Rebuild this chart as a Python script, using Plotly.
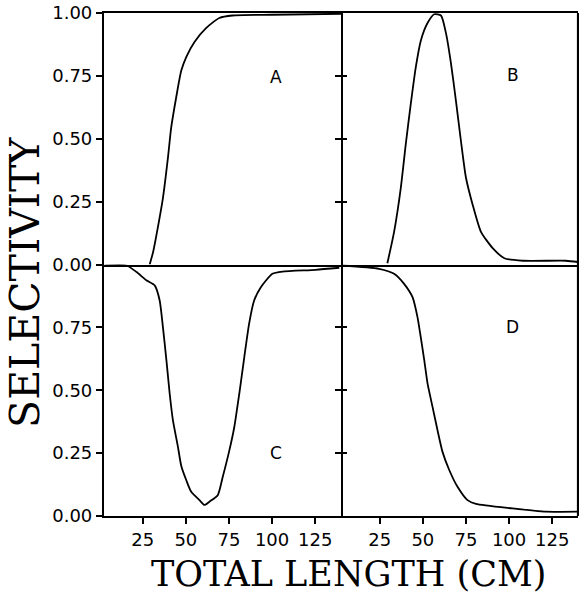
import plotly.graph_objects as go
from plotly.subplots import make_subplots

# ---- data ----
A_x = [29, 31, 33, 36.7, 39.6, 41.5, 44.4, 47.3, 50.2, 55, 61.7, 69.4, 77, 100, 140]
A_y = [0.0, 0.05, 0.12, 0.265, 0.425, 0.545, 0.665, 0.77, 0.825, 0.885, 0.94, 0.98, 0.99, 0.993, 0.997]

B_x = [29.4, 33.3, 37.2, 40.1, 43, 45.9, 48.8, 52.7, 56.6, 60.5, 63.4, 66.3, 69.2, 72.1, 75, 78.8, 83.7, 90.5, 97.3, 108, 133, 140]
B_y = [0.005, 0.13, 0.305, 0.48, 0.64, 0.785, 0.89, 0.96, 0.995, 0.99, 0.92, 0.8, 0.65, 0.49, 0.345, 0.24, 0.13, 0.065, 0.025, 0.015, 0.015, 0.01]

C_x = [3, 15.6, 21.4, 27.1, 31.9, 34.8, 36.7, 38.7, 40.6, 42.5, 45.4, 47.3, 50.2, 53.1, 57.9, 60.8, 63.7, 68.5, 71.4, 75.2, 78.1, 81, 83.9, 86.7, 89.6, 93.5, 100.2, 106, 125.2, 139]
C_y = [0.996, 0.996, 0.97, 0.937, 0.917, 0.857, 0.75, 0.62, 0.487, 0.38, 0.275, 0.2, 0.143, 0.096, 0.063, 0.044, 0.057, 0.083, 0.156, 0.26, 0.354, 0.487, 0.632, 0.765, 0.857, 0.91, 0.963, 0.972, 0.979, 0.987]

D_x = [3.3, 24.6, 33.3, 39.1, 44, 46.9, 48.8, 50.8, 52.7, 55.6, 58.5, 61.4, 65.3, 70.1, 75.9, 80.8, 102, 121.5, 139.7]
D_y = [0.996, 0.983, 0.963, 0.923, 0.87, 0.79, 0.71, 0.62, 0.527, 0.434, 0.341, 0.255, 0.183, 0.116, 0.063, 0.048, 0.03, 0.017, 0.017]

x_ticks = [25, 50, 75, 100, 125]
top_y_ticks = [0, 0.25, 0.5, 0.75, 1.0]
top_y_text = ["0.00", "0.25", "0.50", "0.75", "1.00"]
bot_y_ticks = [0, 0.25, 0.5, 0.75]
bot_y_text = ["0.00", "0.25", "0.50", "0.75"]
mid_ticks = [0.25, 0.5, 0.75]
panel_labels = ["A", "B", "C", "D"]
label_pos = [(102, 0.745), (102, 0.752), (102, 0.25), (102, 0.75)]

fig = make_subplots(rows=2, cols=2, horizontal_spacing=0, vertical_spacing=0)

series = [(A_x, A_y, 1, 1), (B_x, B_y, 1, 2), (C_x, C_y, 2, 1), (D_x, D_y, 2, 2)]
for (xs, ys, r, c) in series:
    fig.add_trace(go.Scatter(x=xs, y=ys, mode="lines",
                             line=dict(color="black", width=1.8, shape="spline", smoothing=0.6),
                             showlegend=False, hoverinfo="skip"), row=r, col=c)

tickfont = dict(family="DejaVu Sans", size=18, color="black")
XR = [2.5, 140]
LW = 2.2

for r in (1, 2):
    for c in (1, 2):
        xa = dict(range=XR, showline=True, linewidth=LW, linecolor="black",
                  showgrid=False, zeroline=False, tickvals=x_ticks, tickfont=tickfont,
                  automargin=False)
        if r == 1:
            xa.update(showticklabels=False, ticks="", mirror=True)
        else:
            xa.update(ticks="outside", ticklen=6, tickwidth=1.5, tickcolor="black", mirror=False)
        fig.update_xaxes(row=r, col=c, **xa)

        ya = dict(range=[0, 1], showgrid=False, zeroline=False, tickfont=tickfont,
                  automargin=False, ticklen=6, tickwidth=1.5,
                  tickcolor="black", linecolor="black", linewidth=LW)
        if c == 1:
            if r == 1:
                ya.update(tickvals=top_y_ticks, ticktext=top_y_text)
            else:
                ya.update(tickvals=bot_y_ticks, ticktext=bot_y_text)
            ya.update(showline=True, mirror=True, ticks="outside")
        else:
            ya.update(tickvals=mid_ticks, showticklabels=False, showline=False, ticks="inside")
        fig.update_yaxes(row=r, col=c, **ya)

# secondary right-side axes on the left panels: inside ticks point left from the divider
for (xs, ys, xname, newy) in ((A_x, A_y, "x", "y5"), (C_x, C_y, "x3", "y6")):
    fig.add_trace(go.Scatter(x=xs, y=ys, xaxis=xname, yaxis=newy, mode="lines",
                             line=dict(color="rgba(0,0,0,0)", width=0),
                             showlegend=False, hoverinfo="skip"))
common = dict(side="right", range=[0, 1], tickvals=mid_ticks,
              ticks="inside", ticklen=6, tickwidth=1.5, tickcolor="black",
              showticklabels=False, showline=False, showgrid=False, zeroline=False,
              automargin=False)
fig.update_layout(yaxis5=dict(overlaying="y", anchor="x", **common),
                  yaxis6=dict(overlaying="y3", anchor="x3", **common))

# right-hand frame edge
fig.add_shape(type="line", xref="paper", yref="paper", x0=1, x1=1, y0=0, y1=1,
              line=dict(color="black", width=LW))

axis_refs = [("x", "y"), ("x2", "y2"), ("x3", "y3"), ("x4", "y4")]
for lab, (px, py), (xr, yr) in zip(panel_labels, label_pos, axis_refs):
    fig.add_annotation(x=px, y=py, xref=xr, yref=yr, text=lab, showarrow=False,
                       font=dict(family="DejaVu Sans", size=17, color="black"),
                       xanchor="center", yanchor="middle")

fig.add_annotation(x=-0.167, y=0.465, xref="paper", yref="paper", text="SELECTIVITY",
                   textangle=-90, showarrow=False, xanchor="center", yanchor="middle",
                   font=dict(family="DejaVu Serif", size=41, color="black"))
fig.add_annotation(x=0.515, y=-0.115, xref="paper", yref="paper", text="TOTAL LENGTH (CM)",
                   showarrow=False, xanchor="center", yanchor="middle",
                   font=dict(family="DejaVu Serif", size=35, color="black"))

fig.update_layout(width=579, height=595, margin=dict(l=104, r=1, t=13, b=79),
                  plot_bgcolor="rgba(0,0,0,0)", paper_bgcolor="white")

fig.write_html("out.html")
